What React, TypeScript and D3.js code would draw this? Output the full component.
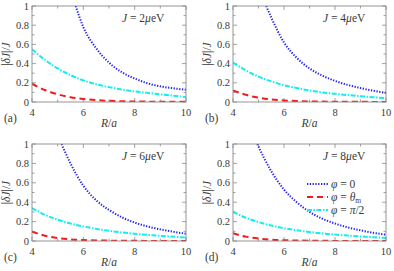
import * as d3 from 'd3'

// R/a grid shared by the cyan and red curves
const rGrid = [4, 4.5, 5, 5.5, 6, 6.5, 7, 7.5, 8, 8.5, 9, 9.5, 10]

// phi = 0 (blue dotted), starts where it leaves the top of the frame
const blueR_a = [5.7, 6, 6.5, 7, 7.5, 8, 8.5, 9, 9.5, 10]
const blue_a = [1.0, 0.78, 0.56, 0.41, 0.31, 0.245, 0.195, 0.163, 0.143, 0.128]
const blueR_b = [5.3, 5.5, 6, 6.5, 7, 7.5, 8, 8.5, 9, 9.5, 10]
const blue_b = [1.0, 0.88, 0.62, 0.46, 0.35, 0.275, 0.22, 0.178, 0.145, 0.118, 0.095]
const blueR_c = [5.15, 5.5, 6, 6.5, 7, 7.5, 8, 8.5, 9, 9.5, 10]
const blue_c = [1.0, 0.8, 0.57, 0.42, 0.32, 0.245, 0.19, 0.15, 0.12, 0.095, 0.075]
const blueR_d = [4.95, 5.5, 6, 6.5, 7, 7.5, 8, 8.5, 9, 9.5, 10]
const blue_d = [1.0, 0.72, 0.53, 0.4, 0.3, 0.23, 0.18, 0.14, 0.11, 0.085, 0.065]

// phi = pi/2 (cyan dash-dot)
const cyan_a = [0.55, 0.44, 0.35, 0.28, 0.225, 0.185, 0.155, 0.13, 0.11, 0.095, 0.08, 0.065, 0.052]
const cyan_b = [0.41, 0.33, 0.265, 0.215, 0.175, 0.145, 0.12, 0.1, 0.085, 0.072, 0.06, 0.05, 0.04]
const cyan_c = [0.34, 0.27, 0.22, 0.18, 0.15, 0.125, 0.105, 0.088, 0.075, 0.063, 0.053, 0.044, 0.036]
const cyan_d = [0.3, 0.24, 0.195, 0.16, 0.133, 0.11, 0.093, 0.078, 0.066, 0.056, 0.047, 0.039, 0.032]

// phi = theta_m (red dashed)
const red_a = [0.19, 0.125, 0.08, 0.05, 0.032, 0.02, 0.012, 0.008, 0.005, 0.004, 0.003, 0.002, 0.002]
const red_b = [0.12, 0.075, 0.045, 0.027, 0.016, 0.01, 0.006, 0.004, 0.003, 0.002, 0.002, 0.001, 0.001]
const red_c = [0.095, 0.055, 0.03, 0.017, 0.01, 0.006, 0.004, 0.003, 0.002, 0.001, 0.001, 0.001, 0.001]
const red_d = [0.08, 0.045, 0.025, 0.014, 0.008, 0.005, 0.003, 0.002, 0.001, 0.001, 0, 0, 0]

const panelTags = ['(a)', '(b)', '(c)', '(d)']
const jValues = ['2', '4', '6', '8']
const xMajor = [4, 6, 8, 10]
const xMinor = [5, 7, 9]
const yMajor = [0, 0.2, 0.4, 0.6, 0.8, 1]
const yMinor = [0.1, 0.3, 0.5, 0.7, 0.9]

const BLUE = '#2323ee'
const RED = '#f01c1c'
const CYAN = '#12eef0'
const FRAME = '#8a8a8a'
const TEXT = '#3a3a3a'
const FONT = "'Liberation Serif', 'Times New Roman', serif"

const styles = {
  blue: { stroke: BLUE, dash: '1.3,1.5' },
  red: { stroke: RED, dash: '6,4' },
  cyan: { stroke: CYAN, dash: '5,1.5,1.5,1.5' }
}

const panels = [
  { x0: 32, x1: 186, y0: 6, y1: 102, blueR: blueR_a, blue: blue_a, cyan: cyan_a, red: red_a },
  { x0: 233, x1: 386, y0: 6, y1: 102, blueR: blueR_b, blue: blue_b, cyan: cyan_b, red: red_b },
  { x0: 32, x1: 186, y0: 144, y1: 241, blueR: blueR_c, blue: blue_c, cyan: cyan_c, red: red_c },
  { x0: 233, x1: 386, y0: 144, y1: 241, blueR: blueR_d, blue: blue_d, cyan: cyan_d, red: red_d }
]

const ital = { fontStyle: 'italic' as const }

function Panel({ p, i }: { p: typeof panels[number]; i: number }) {
  const x = d3.scaleLinear().domain([4, 10]).range([p.x0, p.x1])
  const y = d3.scaleLinear().domain([0, 1]).range([p.y1, p.y0])
  const line = d3.line<[number, number]>()
    .x(d => x(d[0]))
    .y(d => y(d[1]))
    .curve(d3.curveMonotoneX)

  const zip = (rs: number[], vs: number[]) => rs.map((r, k) => [r, vs[k]] as [number, number])
  const clipId = `clip-${i}`
  const midY = (p.y0 + p.y1) / 2

  return (
    <g>
      <defs>
        <clipPath id={clipId}>
          <rect x={p.x0} y={p.y0} width={p.x1 - p.x0} height={p.y1 - p.y0} />
        </clipPath>
      </defs>

      {/* ticks, mirrored on all four sides */}
      <g stroke={FRAME} strokeWidth={0.8}>
        {xMajor.concat(xMinor).map(t => {
          const len = xMajor.includes(t) ? 4 : 2.5
          return (
            <g key={'xt' + t}>
              <line x1={x(t)} x2={x(t)} y1={p.y1} y2={p.y1 - len} />
              <line x1={x(t)} x2={x(t)} y1={p.y0} y2={p.y0 + len} />
            </g>
          )
        })}
        {yMajor.concat(yMinor).map(t => {
          const len = yMajor.includes(t) ? 4 : 2.5
          return (
            <g key={'yt' + t}>
              <line x1={p.x0} x2={p.x0 + len} y1={y(t)} y2={y(t)} />
              <line x1={p.x1} x2={p.x1 - len} y1={y(t)} y2={y(t)} />
            </g>
          )
        })}
      </g>

      {/* curves */}
      <g clipPath={`url(#${clipId})`} fill="none" strokeWidth={2}>
        <path d={line(zip(rGrid, p.red)) ?? ''} stroke={styles.red.stroke} strokeDasharray={styles.red.dash} />
        <path d={line(zip(rGrid, p.cyan)) ?? ''} stroke={styles.cyan.stroke} strokeDasharray={styles.cyan.dash} />
        <path d={line(zip(p.blueR, p.blue)) ?? ''} stroke={styles.blue.stroke} strokeDasharray={styles.blue.dash} />
      </g>

      <rect x={p.x0} y={p.y0} width={p.x1 - p.x0} height={p.y1 - p.y0} fill="none" stroke={FRAME} strokeWidth={0.9} />

      {/* tick labels */}
      <g fill={TEXT} style={{ fontFamily: FONT, fontSize: 10.5 }}>
        {xMajor.map(t => (
          <text key={'xl' + t} x={x(t)} y={p.y1 + 13.5} textAnchor="middle">{t}</text>
        ))}
        {yMajor.map(t => (
          <text key={'yl' + t} x={p.x0 - 3} y={y(t) + 3.6} textAnchor="end">{t}</text>
        ))}
      </g>

      {/* axis titles */}
      <g fill={TEXT} style={{ fontFamily: FONT, fontSize: 11.5 }}>
        <text x={(p.x0 + p.x1) / 2} y={p.y1 + 25} textAnchor="middle">
          <tspan style={ital}>R</tspan>/<tspan style={ital}>a</tspan>
        </text>
        <text transform={`translate(${p.x0 - 22},${midY}) rotate(-90)`} textAnchor="middle">
          |<tspan style={ital}>δJ</tspan>|/<tspan style={ital}>J</tspan>
        </text>
        <text x={p.x0 - 28} y={p.y1 + 20}>{panelTags[i]}</text>
        <text x={p.x0 + 90} y={p.y0 + 16}>
          <tspan style={ital}>J</tspan> = {jValues[i]}<tspan style={ital}>μ</tspan>eV
        </text>
      </g>

      {i === 3 && (
        <g fill={TEXT} style={{ fontFamily: FONT, fontSize: 11.5 }}>
          {[
            { s: styles.blue, label: <><tspan style={ital}>φ</tspan> = 0</> },
            { s: styles.red, label: <><tspan style={ital}>φ</tspan> = <tspan style={ital}>θ</tspan><tspan style={{ fontSize: 7.5 }} dy={2}>m</tspan></> },
            { s: styles.cyan, label: <><tspan style={ital}>φ</tspan> = <tspan style={ital}>π</tspan>/2</> }
          ].map((e, k) => {
            const ly = p.y0 + 40 + k * 13
            return (
              <g key={k}>
                <line x1={p.x0 + 74} x2={p.x0 + 95} y1={ly} y2={ly} stroke={e.s.stroke} strokeDasharray={e.s.dash} strokeWidth={2} />
                <text x={p.x0 + 98} y={ly + 4}>{e.label}</text>
              </g>
            )
          })}
        </g>
      )}
    </g>
  )
}

export default function App() {
  return (
    <svg width={394} height={271} style={{ position: 'absolute', left: 0, top: 0, background: '#fff' }}>
      {panels.map((p, i) => <Panel key={i} p={p} i={i} />)}
    </svg>
  )
}
